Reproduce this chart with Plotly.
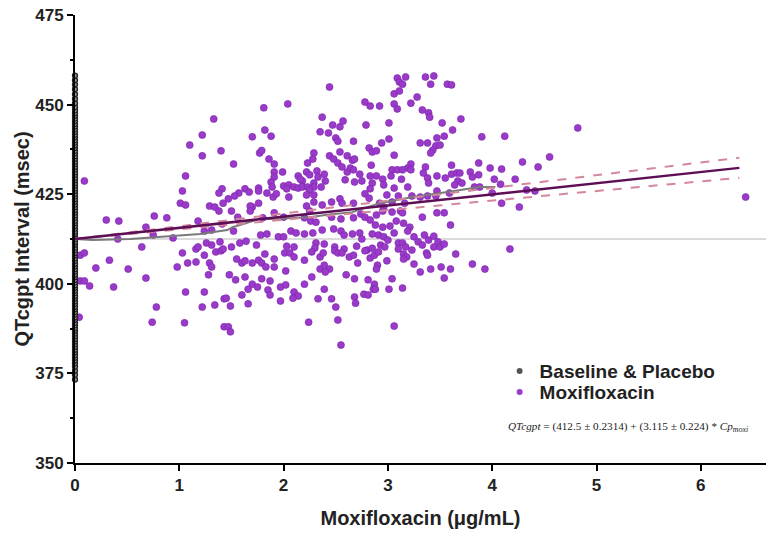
import plotly.graph_objects as go

# Moxifloxacin concentration (ug/mL) and QTcgpt (msec)
moxi_x = [
1.33,1.22,1.10,1.22,1.40,0.09,1.06,1.03,1.41,1.38,1.01,1.06,1.29,1.34,1.42,
2.44,1.81,2.04,2.78,2.83,2.37,1.82,1.88,1.70,2.47,2.57,2.54,2.35,2.43,2.79,2.50,2.52,2.67,1.77,1.79,
1.86,1.91,1.52,2.29,2.28,2.23,2.44,2.48,2.54,2.61,2.66,2.68,2.82,2.85,2.84,1.91,1.91,1.99,2.14,2.18,
2.22,2.25,2.16,2.32,2.33,2.39,2.40,2.29,2.52,2.56,2.61,2.64,2.67,2.59,2.68,2.73,2.75,2.85,2.83,1.88,
1.89,2.00,2.05,2.03,2.10,2.14,2.18,2.23,2.29,2.36,2.25,2.22,2.29,1.76,1.76,1.63,1.67,1.57,1.53,1.47,
1.84,1.90,1.93,2.05,1.76,1.70,1.68,2.22,2.29,2.37,2.46,2.54,2.56,2.67,2.78,2.82,2.83,
3.09,3.11,3.14,3.17,3.36,3.44,3.41,3.57,3.61,3.06,3.11,3.28,3.22,2.92,3.06,3.09,3.33,3.39,3.40,3.70,
3.01,3.52,3.62,3.54,3.90,4.12,3.01,2.94,2.89,3.31,3.38,3.47,3.46,3.50,3.43,3.41,3.06,3.22,3.19,3.36,
3.61,3.87,3.98,4.09,4.29,3.04,3.09,3.14,3.22,3.03,2.95,2.96,2.89,3.13,3.19,3.06,3.34,3.38,3.47,3.55,
3.61,3.66,3.69,3.67,3.79,3.81,3.87,3.39,3.47,3.64,3.71,3.83,3.88,4.02,4.08,4.22,2.99,3.10,3.23,3.31,
3.38,3.46,3.59,4.09,4.26,4.00,3.16,3.04,2.92,2.96,
0.30,0.42,0.76,0.88,0.68,0.75,0.41,0.94,1.18,1.24,1.31,1.41,1.38,0.64,0.05,0.09,0.33,0.20,0.51,1.03,
0.98,1.08,1.16,1.16,1.18,1.24,1.26,1.31,1.35,1.39,1.40,1.42,1.29,1.31,1.28,0.05,0.09,0.14,0.37,0.68,
1.06,1.24,1.34,1.43,0.78,1.22,0.04,0.74,1.05,1.43,
1.50,1.68,1.91,2.25,1.56,1.80,2.00,2.20,2.26,2.31,2.46,2.55,2.67,2.74,2.78,2.83,1.52,1.78,1.84,1.95,
2.00,2.07,2.12,2.20,2.28,2.37,2.48,2.55,2.58,2.66,2.73,2.75,2.85,1.58,1.64,1.50,1.74,2.03,2.10,2.31,
2.30,2.39,2.49,2.58,2.70,2.80,2.85,1.55,1.60,1.63,1.70,1.76,1.79,1.82,1.91,2.01,2.06,2.10,2.20,2.27,
2.35,2.38,2.49,2.52,2.56,2.63,2.67,2.71,2.78,2.83,2.87,1.83,1.91,2.02,2.35,2.39,2.44,2.40,1.48,1.54,
1.63,1.70,1.75,1.66,1.79,1.87,1.97,2.02,2.10,2.14,2.20,2.27,2.39,2.60,2.68,2.81,2.87,1.45,1.49,1.60,
1.66,1.85,1.87,1.97,2.09,2.33,2.46,2.50,2.68,2.69,2.77,2.81,2.86,2.24,2.52,1.47,1.49,2.55,
2.89,2.95,3.04,3.12,3.14,3.47,3.54,3.33,3.60,2.88,2.95,3.02,3.08,3.15,3.21,3.19,3.06,2.91,2.96,3.00,
2.93,2.97,2.91,2.99,2.90,2.89,3.10,3.14,3.17,3.23,3.15,3.18,3.15,3.10,3.25,3.29,3.33,3.35,3.39,3.44,
3.44,3.48,3.50,3.54,3.37,3.38,3.65,3.25,3.31,3.41,3.51,3.60,3.54,3.81,3.93,4.17,3.04,3.01,3.14,2.88,
3.06,
4.41,4.44,4.55,4.82,6.43,4.33]
moxi_y = [
446.0,441.5,438.7,435.7,437.1,428.7,430.1,425.9,426.5,425.3,422.5,422.0,421.7,421.4,422.5,
454.9,449.1,450.2,450.7,449.6,446.5,442.9,441.2,441.0,444.3,445.4,443.8,442.4,442.1,444.3,440.7,439.8,439.8,436.5,437.2,
434.8,433.4,433.4,436.5,434.8,433.7,435.7,434.8,436.8,435.7,434.5,434.8,437.9,436.8,433.1,431.2,429.8,431.2,430.1,428.7,
431.2,430.4,429.2,431.5,429.8,430.6,428.7,428.1,433.7,432.6,431.2,432.3,431.8,429.0,428.4,430.6,428.7,428.1,430.1,428.4,
427.0,427.3,427.6,426.5,427.0,426.7,427.0,427.0,427.0,427.0,426.2,424.8,424.8,426.7,425.9,426.5,425.6,425.3,424.5,423.7,
425.3,424.2,425.1,424.2,422.5,421.4,421.7,421.7,422.8,422.0,422.8,423.7,422.5,422.5,425.1,423.9,426.5,
457.4,456.3,455.7,457.7,457.7,458.0,455.7,455.7,455.5,453.0,453.8,452.1,450.4,449.6,450.2,448.8,448.5,447.7,446.5,446.0,
444.9,444.9,442.9,441.2,441.0,441.2,440.4,439.3,437.1,439.3,439.3,440.7,438.5,438.7,437.3,436.5,435.9,433.4,432.3,432.6,
433.1,433.7,432.3,432.0,434.0,431.8,431.8,431.8,431.8,430.1,429.2,427.6,430.1,429.2,427.0,426.7,430.9,429.5,430.1,429.5,
430.6,430.9,430.9,428.7,431.2,429.8,430.4,428.1,425.9,427.6,428.1,427.0,427.0,429.2,427.8,429.2,424.8,424.5,424.5,424.2,
424.5,424.5,425.3,422.5,421.4,425.3,422.5,422.8,422.5,421.4,
417.8,417.5,418.9,418.4,415.8,413.6,412.5,412.8,417.5,414.7,415.0,416.7,420.3,410.3,408.0,408.6,406.6,404.4,404.1,408.6,
404.7,405.8,406.1,409.7,410.3,408.0,411.4,410.8,408.9,411.7,409.2,409.7,405.8,404.7,402.5,400.8,400.8,399.4,399.1,401.6,
397.7,397.7,394.1,395.8,393.5,393.5,390.7,389.3,389.1,388.0,
420.3,420.3,419.8,420.3,418.6,418.4,418.6,418.4,417.5,417.2,418.6,418.1,418.4,419.5,418.6,417.8,414.7,413.6,413.9,413.1,
413.1,414.7,414.2,413.9,414.2,415.0,415.3,414.7,413.6,413.9,414.2,412.5,413.9,411.4,411.9,410.3,410.8,410.5,410.3,411.4,
410.0,411.1,410.3,409.7,410.5,409.4,409.9,406.9,405.8,406.4,405.8,406.6,405.8,408.3,406.9,408.6,408.6,407.5,406.6,408.9,
407.5,408.6,409.2,408.6,408.6,407.5,408.0,405.8,409.2,407.2,408.0,404.7,404.7,403.6,404.1,405.2,404.1,403.3,402.5,401.1,
401.9,399.9,399.1,398.5,401.4,400.8,399.1,399.7,397.7,396.6,399.9,401.9,398.5,402.5,401.4,401.1,399.9,396.0,393.8,396.9,
394.4,398.3,396.9,395.2,396.0,395.8,395.8,393.5,396.3,394.6,397.1,396.9,398.5,389.3,389.9,388.0,386.6,382.9,
419.2,420.3,420.0,420.3,419.8,419.8,419.8,418.6,416.4,416.4,415.8,416.1,417.5,416.9,415.8,414.7,414.2,413.6,413.1,412.2,
410.8,410.3,408.9,406.4,405.2,404.1,411.4,411.4,410.3,409.4,408.3,407.5,406.9,409.7,413.1,411.7,410.8,413.6,412.2,413.3,
410.3,411.7,410.3,411.1,408.6,408.0,408.3,405.5,403.3,404.1,404.7,404.1,401.6,405.5,404.1,409.7,401.4,398.5,398.8,398.5,
388.2,
425.9,432.6,435.4,443.5,424.2,426.2]

# Baseline & Placebo (all at 0 ug/mL)
base_y = [373.3,374.6,375.8,376.9,377.8,378.6,379.4,380.1,380.9,381.6,382.4,383.1,383.9,384.6,385.4,
386.1,386.9,387.6,388.4,389.1,389.9,390.6,391.4,392.1,392.9,393.6,394.4,395.1,395.9,396.6,397.4,
398.1,398.9,399.6,400.4,401.1,401.9,402.6,403.4,404.1,404.9,405.6,406.4,407.1,407.9,408.6,409.4,
410.1,410.9,411.6,412.4,413.1,413.9,414.6,415.4,416.1,416.9,417.6,418.4,419.1,419.9,420.6,421.4,
422.1,422.9,423.6,424.4,425.1,425.9,426.6,427.4,428.1,428.9,429.6,430.4,431.1,431.9,432.6,433.4,
434.1,434.9,435.6,436.4,437.1,437.9,438.6,439.4,440.1,440.9,441.6,442.4,443.1,443.9,444.6,445.4,
446.1,446.9,447.6,448.4,449.3,450.4,451.6,452.9,454.3,455.6,456.8,458.1]
base_x = [0.0] * len(base_y)

# running mean line (grey)
smooth_x = [0.0, 0.17, 0.53, 0.81, 1.20, 1.46, 1.51, 1.65, 1.77, 1.90, 2.09, 2.25, 2.40, 2.66, 2.92, 3.24, 3.57, 3.88, 4.03]
smooth_y = [412.5, 412.2, 412.5, 413.1, 413.9, 415.0, 415.8, 417.0, 418.1, 418.1, 418.4, 418.6, 419.2, 420.0, 422.5, 424.2, 425.6, 427.0, 427.0]

# regression: QTcgpt = 412.5 + 3.115 * Cp ; 95% CI of slope
intercept = 412.5
slope = 3.115
slope_hi = 3.56
slope_lo = 2.68
fit_x = [0.0, 6.37]

fit_y = [intercept + slope * v for v in fit_x]
hi_y = [intercept + slope_hi * v for v in fit_x]
lo_y = [intercept + slope_lo * v for v in fit_x]

fig = go.Figure()
fig.add_shape(type="line", xref="paper", yref="y", x0=0, x1=1, y0=intercept, y1=intercept,
              line=dict(color="#cfcfcf", width=1.5), layer="below")

fig.add_trace(go.Scatter(x=moxi_x, y=moxi_y, mode="markers", name="Moxifloxacin",
                         marker=dict(size=7, color="#9a3ac8", line=dict(width=0.6, color="#7b24ad")),
                         showlegend=False))
fig.add_trace(go.Scatter(x=base_x, y=base_y, mode="markers", name="Baseline & Placebo",
                         marker=dict(size=5, color="#8a8a8a", line=dict(width=1.3, color="#222222")),
                         cliponaxis=False, showlegend=False))
fig.add_trace(go.Scatter(x=smooth_x, y=smooth_y, mode="lines", line=dict(color="#7a7a7a", width=2),
                         showlegend=False, hoverinfo="skip"))
fig.add_trace(go.Scatter(x=fit_x, y=hi_y, mode="lines", line=dict(color="#d4879c", width=2, dash="dash"),
                         showlegend=False))
fig.add_trace(go.Scatter(x=fit_x, y=lo_y, mode="lines", line=dict(color="#d4879c", width=2, dash="dash"),
                         showlegend=False))
fig.add_trace(go.Scatter(x=fit_x, y=fit_y, mode="lines", line=dict(color="#5c0f55", width=2.5),
                         showlegend=False))
# legend entries (each in its own legend box for exact spacing)
fig.add_trace(go.Scatter(x=[None], y=[None], mode="markers", name="Baseline & Placebo",
                         marker=dict(size=6, color="#555555"), legend="legend"))
fig.add_trace(go.Scatter(x=[None], y=[None], mode="markers", name="Moxifloxacin",
                         marker=dict(size=6, color="#9a3ac8"), legend="legend2"))

fig.add_annotation(xref="paper", yref="paper", x=0.8, y=0.08, xanchor="center", yanchor="middle",
                   showarrow=False,
                   text="<i>QTcgpt</i> = (412.5 ± 0.2314) + (3.115 ± 0.224) * <i>Cp<sub>moxi</sub></i>",
                   font=dict(family="Liberation Serif", size=11.2, color="#222"))

legfont = dict(size=19, family="Liberation Sans, Arial", color="#222", weight="bold")
tickfont = dict(family="Liberation Sans, Arial", size=17, color="#222", weight="bold")
titlefont = dict(size=20, family="Liberation Sans, Arial", color="#222", weight="bold")
fig.update_layout(
    width=766, height=533,
    margin=dict(l=75, r=0, t=15, b=70),
    paper_bgcolor="white", plot_bgcolor="white",
    font=dict(family="Liberation Sans, Arial", color="#222"),
    legend=dict(x=0.6145, y=0.205, xanchor="left", yanchor="middle", bgcolor="rgba(0,0,0,0)",
                font=legfont, itemsizing="trace"),
    legend2=dict(x=0.6145, y=0.158, xanchor="left", yanchor="middle", bgcolor="rgba(0,0,0,0)",
                 font=legfont, itemsizing="trace"),
    xaxis=dict(range=[0, 6.625], showgrid=False, zeroline=False, showline=True, linecolor="black",
               linewidth=2, ticks="outside", ticklen=6, tickwidth=2, tickcolor="black",
               dtick=1, tick0=0, tickfont=tickfont,
               title=dict(text="Moxifloxacin (μg/mL)", standoff=17, font=titlefont)),
    yaxis=dict(range=[350, 475], showgrid=False, zeroline=False, showline=True, linecolor="black",
               linewidth=2, ticks="outside", ticklen=6, tickwidth=2, tickcolor="black",
               dtick=25, tick0=350, tickfont=tickfont,
               minor=dict(dtick=12.5, tick0=350, ticks="outside", ticklen=3, tickwidth=2, tickcolor="black"),
               title=dict(text="QTcgpt Interval (msec)", standoff=0, font=titlefont)),
)

fig.write_html("out.html")
